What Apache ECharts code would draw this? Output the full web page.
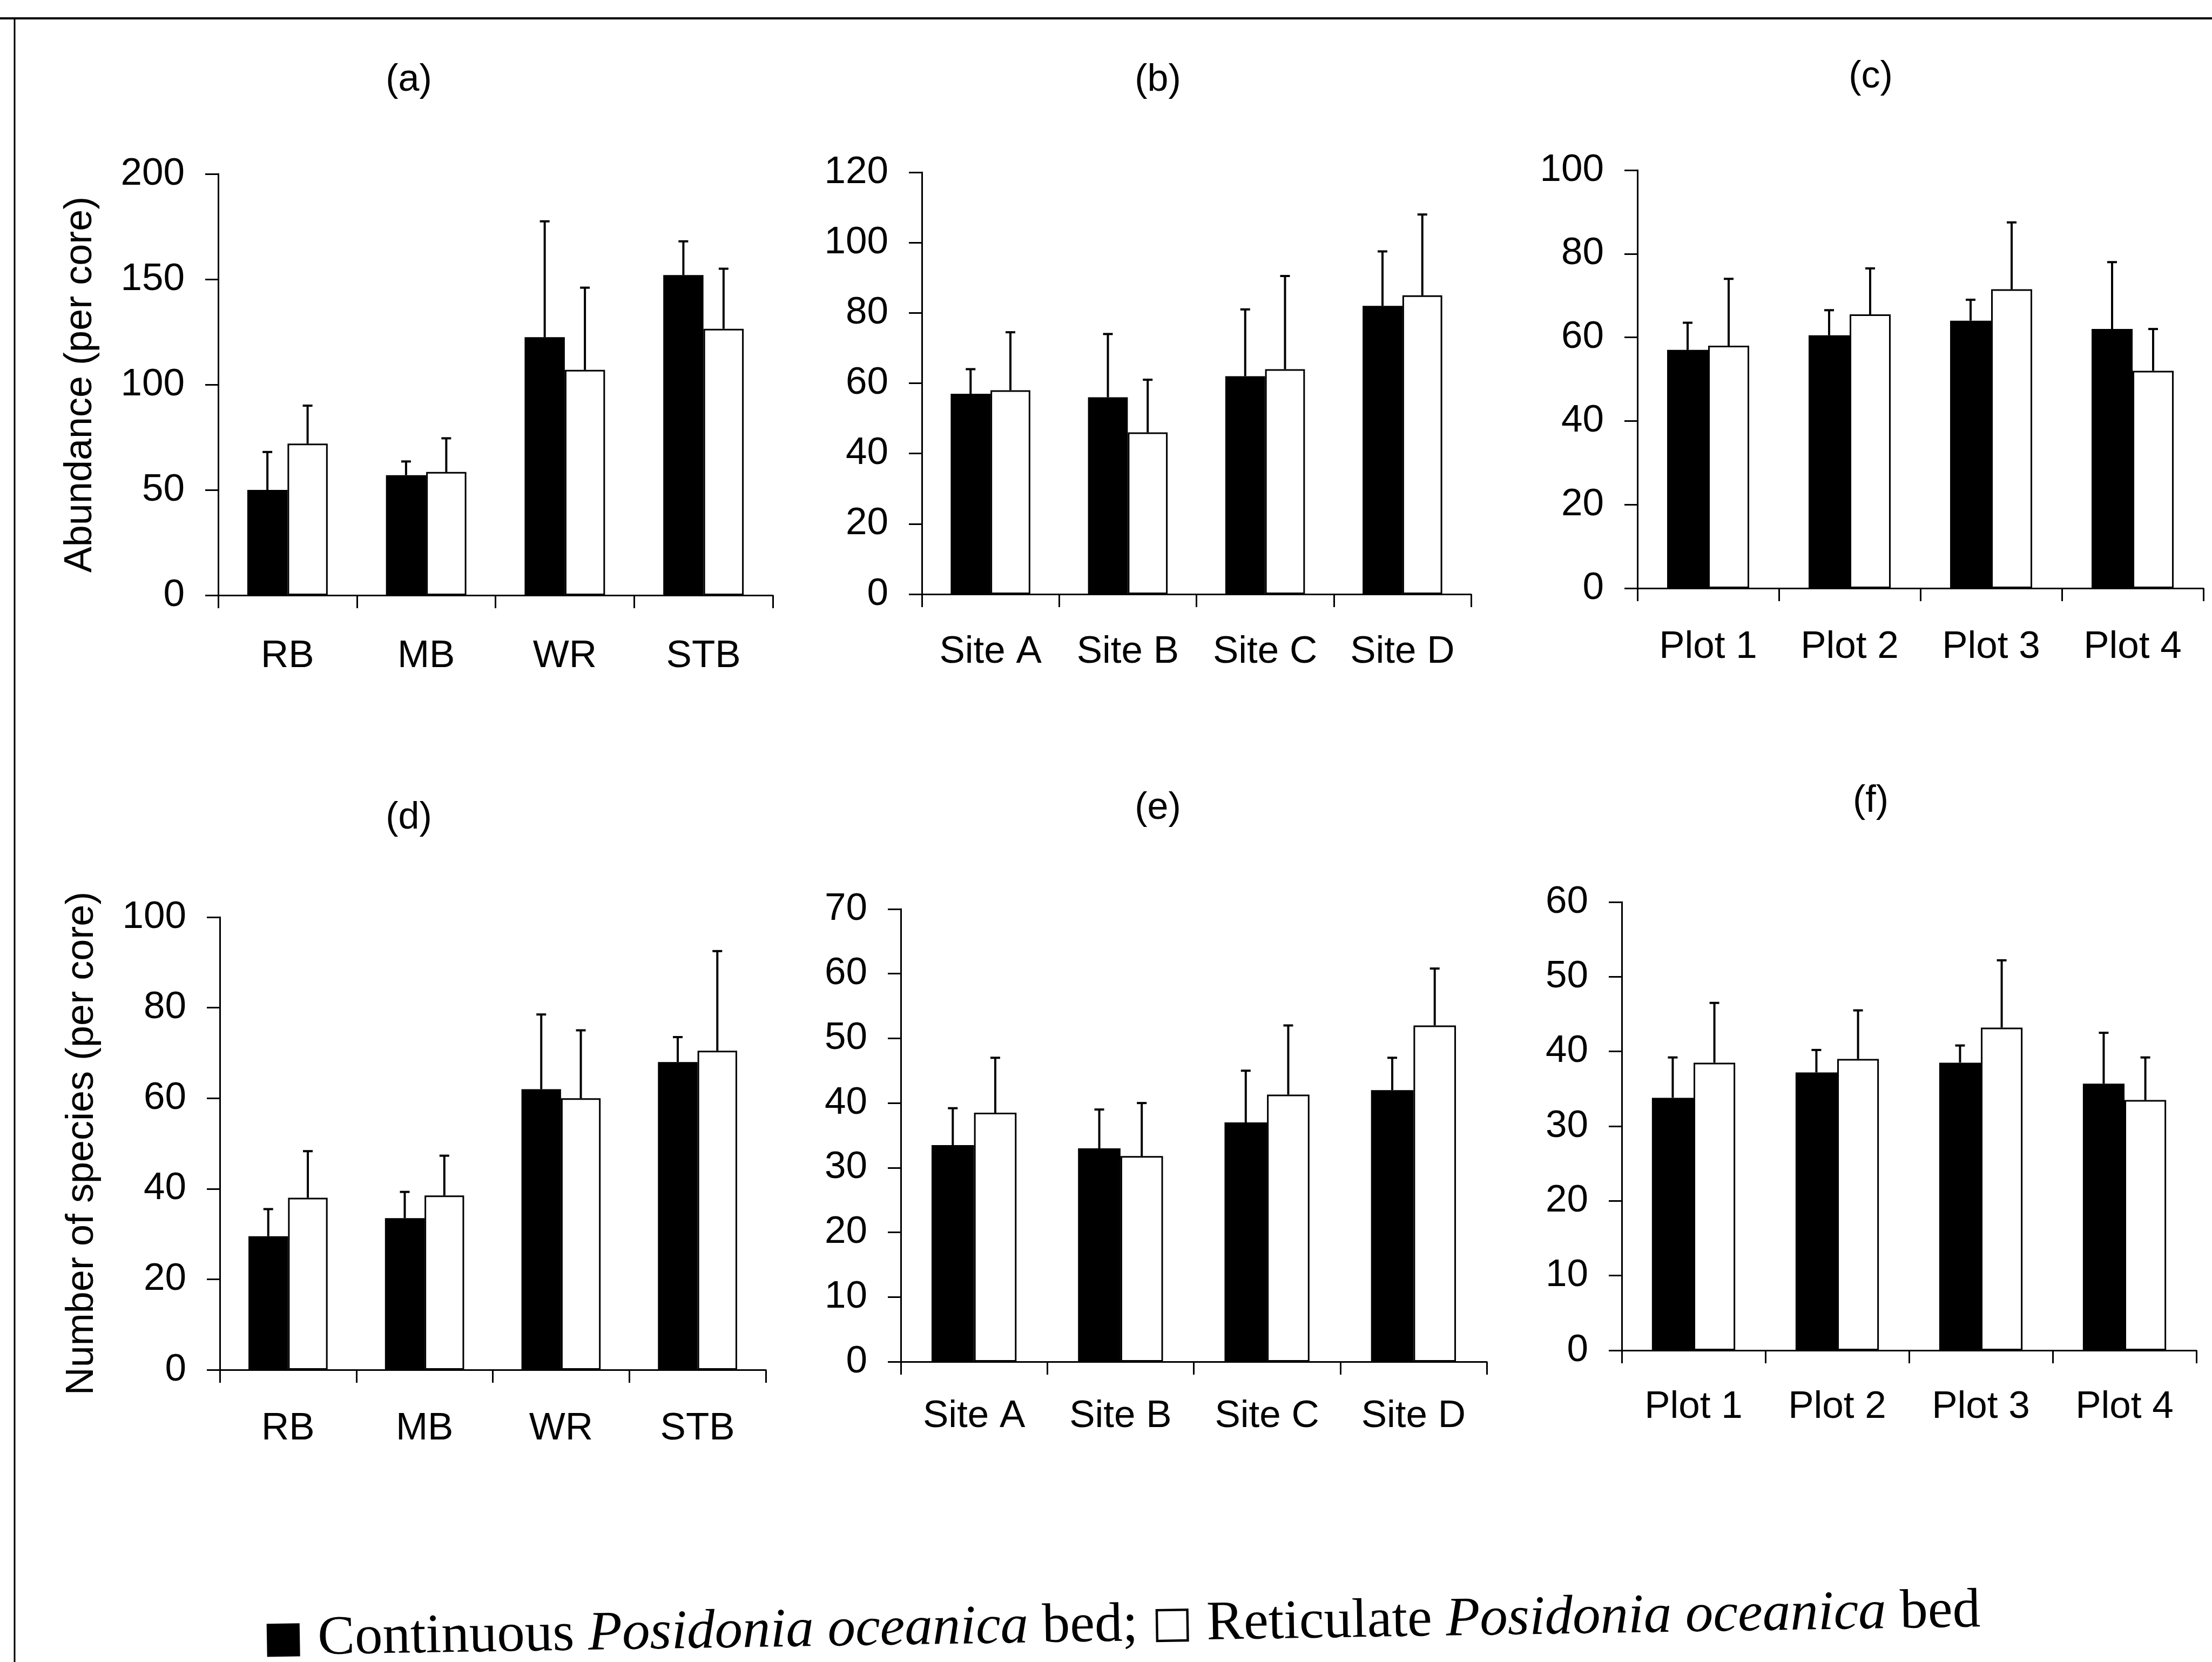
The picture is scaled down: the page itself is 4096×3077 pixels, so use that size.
<!DOCTYPE html>
<html><head><meta charset="utf-8">
<script src="https://cdn.jsdelivr.net/npm/echarts@6/dist/echarts.min.js"></script>
<style>html,body{margin:0;padding:0;background:#fff}#c{width:4096px;height:3077px}</style>
</head><body><div id="c"></div>
<script>
// ---------- data ----------
const habitatCats = ['RB', 'MB', 'WR', 'STB'];
const siteCats = ['Site A', 'Site B', 'Site C', 'Site D'];
const plotCats = ['Plot 1', 'Plot 2', 'Plot 3', 'Plot 4'];

// (a) abundance by habitat
const abHabCont = [50, 57, 122.5, 152];
const abHabContSE = [18, 6.5, 55, 16];
const abHabRet = [72, 58.5, 107, 126.5];
const abHabRetSE = [18, 16, 39, 28.5];
// (b) abundance by site
const abSiteCont = [57, 56, 62, 82];
const abSiteContSE = [7, 18, 19, 15.5];
const abSiteRet = [58, 46, 64, 85];
const abSiteRetSE = [16.5, 15, 26.5, 23];
// (c) abundance by plot
const abPlotCont = [57, 60.5, 64, 62];
const abPlotContSE = [6.5, 6, 5, 16];
const abPlotRet = [58, 65.5, 71.5, 52];
const abPlotRetSE = [16, 11, 16, 10];
// (d) species by habitat
const spHabCont = [29.5, 33.5, 62, 68];
const spHabContSE = [6, 5.8, 16.5, 5.5];
const spHabRet = [38, 38.5, 60, 70.5];
const spHabRetSE = [10.3, 8.8, 15, 22];
// (e) species by site
const spSiteCont = [33.5, 33, 37, 42];
const spSiteContSE = [5.7, 6, 8, 5];
const spSiteRet = [38.5, 31.8, 41.3, 52];
const spSiteRetSE = [8.5, 8.2, 10.7, 8.8];
// (f) species by plot
const spPlotCont = [33.8, 37.2, 38.5, 35.7];
const spPlotContSE = [5.4, 3, 2.3, 6.8];
const spPlotRet = [38.5, 39, 43.2, 33.5];
const spPlotRetSE = [8, 6.5, 9, 5.7];

const yMaxes = [200, 120, 100, 100, 70, 60];
const yIntervals = [50, 20, 20, 20, 10, 10];
const panelTitles = ['(a)', '(b)', '(c)', '(d)', '(e)', '(f)'];
const yNameAbund = 'Abundance (per core)';
const yNameSpecies = 'Number of species (per core)';
const seriesNames = ['Continuous Posidonia oceanica bed', 'Reticulate Posidonia oceanica bed'];

// ---------- layout ----------
const FONT = 'Liberation Sans, Arial, sans-serif';
const BAR_FRAC = 0.29;
const panels = [
  {cats: habitatCats, c: abHabCont, cs: abHabContSE, r: abHabRet, rs: abHabRetSE, grid: {left: 404, top: 322, width: 1027, height: 780}, xm: 78, title: [757, 149], yname: yNameAbund},
  {cats: siteCats, c: abSiteCont, cs: abSiteContSE, r: abSiteRet, rs: abSiteRetSE, grid: {left: 1707, top: 319, width: 1017, height: 781}, xm: 72, title: [2144, 149]},
  {cats: plotCats, c: abPlotCont, cs: abPlotContSE, r: abPlotRet, rs: abPlotRetSE, grid: {left: 3032, top: 315, width: 1048, height: 774}, xm: 74, title: [3464, 143]},
  {cats: habitatCats, c: spHabCont, cs: spHabContSE, r: spHabRet, rs: spHabRetSE, grid: {left: 407, top: 1698, width: 1011, height: 838}, xm: 74, title: [757, 1515], yname: yNameSpecies},
  {cats: siteCats, c: spSiteCont, cs: spSiteContSE, r: spSiteRet, rs: spSiteRetSE, grid: {left: 1668, top: 1683, width: 1085, height: 838}, xm: 66, title: [2144, 1497]},
  {cats: plotCats, c: spPlotCont, cs: spPlotContSE, r: spPlotRet, rs: spPlotRetSE, grid: {left: 3003, top: 1670, width: 1064, height: 830}, xm: 70, title: [3464, 1484]}
];

function errRender(sign) {
  return function (params, api) {
    const i = api.value(0), v = api.value(1), e = api.value(2);
    const band = api.size([1, 0])[0];
    const base = api.coord([i, v]);
    const top = api.coord([i, v + e]);
    const x = base[0] + sign * band * BAR_FRAC / 2;
    const cap = 9;
    const st = {stroke: '#000', lineWidth: 4};
    return {type: 'group', children: [
      {type: 'line', shape: {x1: x, y1: base[1], x2: x, y2: top[1]}, style: st},
      {type: 'line', shape: {x1: x - cap, y1: top[1], x2: x + cap, y2: top[1]}, style: st}
    ]};
  };
}

const grids = [], xAxes = [], yAxes = [], series = [], graphics = [];
panels.forEach((p, k) => {
  grids.push(Object.assign({containLabel: false, outerBoundsMode: 'none'}, p.grid));
  xAxes.push({
    type: 'category', gridIndex: k, data: p.cats, boundaryGap: true,
    axisLine: {show: true, lineStyle: {color: '#000', width: 3}},
    axisTick: {show: true, inside: false, length: 24, alignWithLabel: false, interval: 0, lineStyle: {color: '#000', width: 3}},
    axisLabel: {show: true, interval: 0, color: '#000', fontFamily: FONT, fontSize: 71, margin: p.xm},
    splitLine: {show: false}
  });
  yAxes.push({
    type: 'value', gridIndex: k, min: 0, max: yMaxes[k], interval: yIntervals[k],
    name: p.yname || '', nameLocation: 'middle', nameGap: 219, nameRotate: 90,
    nameTextStyle: {color: '#000', fontFamily: FONT, fontSize: 72},
    axisLine: {show: true, lineStyle: {color: '#000', width: 3}},
    axisTick: {show: true, inside: false, length: 24, lineStyle: {color: '#000', width: 3}},
    axisLabel: {show: true, color: '#000', fontFamily: FONT, fontSize: 71, margin: 62},
    splitLine: {show: false}
  });
  series.push({
    name: seriesNames[0], type: 'bar', xAxisIndex: k, yAxisIndex: k, data: p.c,
    barWidth: (BAR_FRAC * 100) + '%', barGap: '0%',
    itemStyle: {color: '#000', borderColor: '#000', borderWidth: 3}, silent: true
  });
  series.push({
    name: seriesNames[1], type: 'bar', xAxisIndex: k, yAxisIndex: k, data: p.r,
    barWidth: (BAR_FRAC * 100) + '%', barGap: '0%',
    itemStyle: {color: '#fff', borderColor: '#000', borderWidth: 3}, silent: true
  });
  series.push({
    type: 'custom', xAxisIndex: k, yAxisIndex: k, z: 5, silent: true,
    data: p.c.map((v, i) => [i, v, p.cs[i]]), encode: {x: 0, y: 1},
    renderItem: errRender(-1)
  });
  series.push({
    type: 'custom', xAxisIndex: k, yAxisIndex: k, z: 5, silent: true,
    data: p.r.map((v, i) => [i, v, p.rs[i]]), encode: {x: 0, y: 1},
    renderItem: errRender(1)
  });
  graphics.push({
    type: 'text', x: p.title[0], y: p.title[1],
    style: {text: panelTitles[k], fill: '#000', font: '70px ' + FONT, textAlign: 'center', textVerticalAlign: 'middle'}
  });
});

// frame lines
graphics.push({type: 'line', shape: {x1: 0, y1: 34, x2: 4096, y2: 34}, style: {stroke: '#000', lineWidth: 4}});
graphics.push({type: 'line', shape: {x1: 27, y1: 34, x2: 27, y2: 3077}, style: {stroke: '#000', lineWidth: 3}});

// legend text (slightly tilted like the scanned original)
graphics.push({
  type: 'text', x: 487, y: 3037, rotation: 0.0166,
  style: {
    text: '{sq|\u25A0} Continuous {it|Posidonia oceanica} bed; {sq|\u25A1} Reticulate {it|Posidonia oceanica} bed',
    fill: '#000', fontFamily: 'Liberation Serif, Times New Roman, serif', fontSize: 103,
    textVerticalAlign: 'middle', textAlign: 'left',
    rich: {
      sq: {fontFamily: 'DejaVu Sans', fontSize: 80, fill: '#000'},
      it: {fontFamily: 'Liberation Serif, Times New Roman, serif', fontStyle: 'italic', fontSize: 103, fill: '#000'}
    }
  }
});

const chart = echarts.init(document.getElementById('c'), null, {renderer: 'canvas', width: 4096, height: 3077});
chart.setOption({
  animation: false, backgroundColor: '#fff',
  grid: grids, xAxis: xAxes, yAxis: yAxes, series: series, graphic: graphics
});
</script></body></html>
